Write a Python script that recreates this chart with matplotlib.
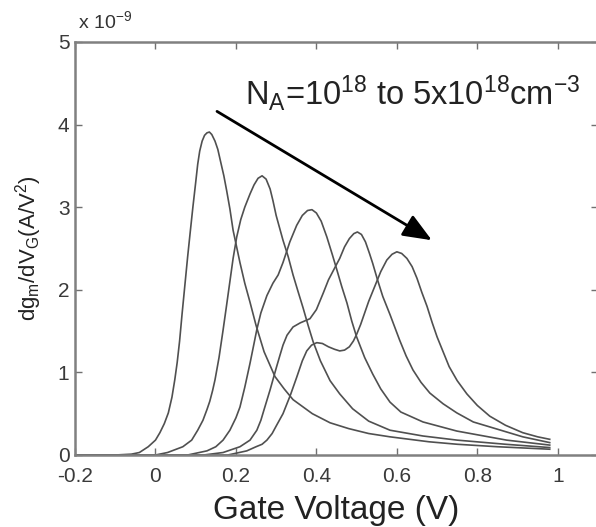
import numpy as np
import matplotlib
matplotlib.use("Agg")
import matplotlib.pyplot as plt

plt.rcParams['font.family'] = ['Liberation Sans', 'DejaVu Sans']
plt.rcParams['mathtext.fontset'] = 'custom'
plt.rcParams['mathtext.rm'] = 'Liberation Sans'
plt.rcParams['mathtext.it'] = 'Liberation Sans:italic'
plt.rcParams['mathtext.bf'] = 'Liberation Sans:bold'

# dgm/dVG in units of 1e-9 A/V^2 versus gate voltage, one curve per doping level
v1 = [-0.2, -0.1, -0.06, -0.04, -0.018, 0.0, 0.011, 0.022, 0.032, 0.041, 0.048, 0.054,
      0.060, 0.066, 0.073, 0.080, 0.086, 0.093, 0.100, 0.105, 0.110, 0.116, 0.122, 0.128,
      0.134, 0.140, 0.148, 0.155, 0.162, 0.170, 0.177, 0.185, 0.193, 0.200, 0.210, 0.222,
      0.235, 0.250, 0.270, 0.297, 0.320, 0.342, 0.390, 0.434, 0.480, 0.530, 0.583, 0.680,
      0.750, 0.850, 0.980]
g1 = [0.0, 0.0, 0.01, 0.03, 0.10, 0.18, 0.27, 0.38, 0.51, 0.70, 0.91, 1.12,
      1.38, 1.70, 2.05, 2.40, 2.68, 3.00, 3.30, 3.52, 3.68, 3.80, 3.87, 3.90,
      3.91, 3.88, 3.80, 3.70, 3.55, 3.38, 3.20, 2.98, 2.72, 2.56, 2.33, 2.08,
      1.85, 1.57, 1.25, 0.95, 0.80, 0.67, 0.50, 0.39, 0.32, 0.26, 0.22, 0.16,
      0.13, 0.10, 0.07]

v2 = [-0.2, 0.0, 0.03, 0.068, 0.090, 0.105, 0.118, 0.128, 0.135, 0.142, 0.148, 0.158,
      0.168, 0.177, 0.185, 0.193, 0.202, 0.212, 0.222, 0.235, 0.245, 0.255, 0.265, 0.275,
      0.285, 0.292, 0.300, 0.317, 0.330, 0.342, 0.355, 0.367, 0.380, 0.392, 0.410, 0.434,
      0.458, 0.490, 0.530, 0.583, 0.665, 0.750, 0.870, 0.980]
g2 = [0.0, 0.0, 0.03, 0.10, 0.18, 0.30, 0.42, 0.55, 0.65, 0.78, 0.91, 1.18,
      1.51, 1.82, 2.10, 2.38, 2.64, 2.85, 3.00, 3.16, 3.27, 3.35, 3.38, 3.34,
      3.22, 3.08, 2.90, 2.60, 2.40, 2.18, 1.97, 1.78, 1.56, 1.37, 1.14, 0.90,
      0.74, 0.56, 0.41, 0.30, 0.23, 0.18, 0.13, 0.09]

v3 = [-0.2, 0.08, 0.128, 0.150, 0.168, 0.185, 0.200, 0.210, 0.222, 0.235, 0.245, 0.252,
      0.262, 0.277, 0.292, 0.305, 0.317, 0.334, 0.351, 0.365, 0.378, 0.389, 0.400, 0.412,
      0.426, 0.440, 0.451, 0.463, 0.476, 0.488, 0.500, 0.520, 0.540, 0.560, 0.583, 0.610,
      0.665, 0.749, 0.873, 0.980]
g3 = [0.0, 0.0, 0.05, 0.10, 0.18, 0.30, 0.45, 0.58, 0.82, 1.11, 1.35, 1.52,
      1.72, 1.93, 2.08, 2.18, 2.33, 2.58, 2.78, 2.90, 2.96, 2.97, 2.93, 2.83,
      2.64, 2.42, 2.24, 2.04, 1.84, 1.62, 1.43, 1.18, 0.98, 0.80, 0.64, 0.52,
      0.40, 0.29, 0.18, 0.12]

v4 = [-0.2, 0.12, 0.168, 0.210, 0.235, 0.252, 0.262, 0.270, 0.285, 0.300, 0.309, 0.317,
      0.327, 0.342, 0.360, 0.384, 0.400, 0.417, 0.430, 0.445, 0.458, 0.470, 0.482, 0.493,
      0.502, 0.512, 0.522, 0.532, 0.540, 0.552, 0.565, 0.583, 0.607, 0.623, 0.640, 0.660,
      0.682, 0.715, 0.749, 0.790, 0.831, 0.913, 0.980]
g4 = [0.0, 0.0, 0.03, 0.10, 0.18, 0.30, 0.42, 0.55, 0.79, 1.05, 1.20, 1.33,
      1.45, 1.55, 1.60, 1.65, 1.76, 1.96, 2.12, 2.26, 2.38, 2.52, 2.62, 2.68,
      2.70, 2.67, 2.58, 2.44, 2.32, 2.12, 1.92, 1.70, 1.39, 1.20, 1.03, 0.88,
      0.75, 0.62, 0.51, 0.40, 0.34, 0.22, 0.15]

v5 = [-0.2, 0.18, 0.227, 0.250, 0.265, 0.277, 0.290, 0.300, 0.317, 0.335, 0.351, 0.365,
      0.376, 0.388, 0.401, 0.415, 0.430, 0.445, 0.458, 0.470, 0.482, 0.492, 0.500, 0.510,
      0.520, 0.530, 0.540, 0.550, 0.560, 0.575, 0.588, 0.600, 0.612, 0.625, 0.638, 0.650,
      0.662, 0.675, 0.688, 0.700, 0.715, 0.730, 0.750, 0.774, 0.800, 0.831, 0.870, 0.913,
      0.950, 0.980]
g5 = [0.0, 0.0, 0.05, 0.10, 0.13, 0.18, 0.26, 0.35, 0.50, 0.72, 0.94, 1.14,
      1.26, 1.33, 1.36, 1.35, 1.31, 1.28, 1.26, 1.27, 1.31, 1.38, 1.46, 1.58,
      1.72, 1.86, 1.98, 2.10, 2.22, 2.36, 2.43, 2.46, 2.44, 2.38, 2.28, 2.14,
      1.97, 1.80, 1.60, 1.43, 1.25, 1.07, 0.90, 0.74, 0.60, 0.47, 0.36, 0.27,
      0.22, 0.19]

curves = [(v1, g1), (v2, g2), (v3, g3), (v4, g4), (v5, g5)]

W, H = 596, 527
fig = plt.figure(figsize=(W / 100, H / 100), dpi=100)
ax = fig.add_axes([75 / W, (H - 455) / H, (598 - 75) / W, (455 - 42) / H])

for v, g in curves:
    ax.plot(v, g, color='#505050', lw=1.2, solid_joinstyle='round')

ax.set_xlim(-0.2, 1.1)
ax.set_ylim(0, 5)
ax.set_xticks([-0.2, 0, 0.2, 0.4, 0.6, 0.8, 1])
ax.set_xticklabels(['-0.2', '0', '0.2', '0.4', '0.6', '0.8', '1'])
ax.set_yticks([0, 1, 2, 3, 4, 5])
ax.tick_params(direction='in', top=True, right=True, length=5, width=1,
               color='#707070', labelsize=15, labelcolor='#3a3a3a')
ax.tick_params(axis='x', pad=9)
ax.tick_params(axis='y', pad=4)
for s in ax.spines.values():
    s.set_color('#808080')
    s.set_linewidth(1.8)

ax.set_xlabel('Gate Voltage (V)', fontsize=24, color='#222222', labelpad=6)
ax.set_ylabel(r'dg$_\mathrm{m}$/dV$_\mathrm{G}$(A/V$^2$)', fontsize=16, color='#222222',
              labelpad=10)
ax.text(0.005, 1.025, r'x 10$^{-9}$', transform=ax.transAxes, fontsize=14,
        color='#333333', ha='left', va='bottom')

ax.text(0.222, 4.24, r'N$_\mathrm{A}$=10$^{18}$ to 5x10$^{18}$cm$^{-3}$', fontsize=23.5,
        color='#222222', ha='left', va='baseline')
ax.annotate('', xy=(0.687, 2.60), xytext=(0.153, 4.16),
            arrowprops=dict(arrowstyle='-|>,head_length=1.1,head_width=0.45',
                            color='black', lw=2, mutation_scale=16,
                            shrinkA=0, shrinkB=0))

fig.savefig('out.png', dpi=100)
